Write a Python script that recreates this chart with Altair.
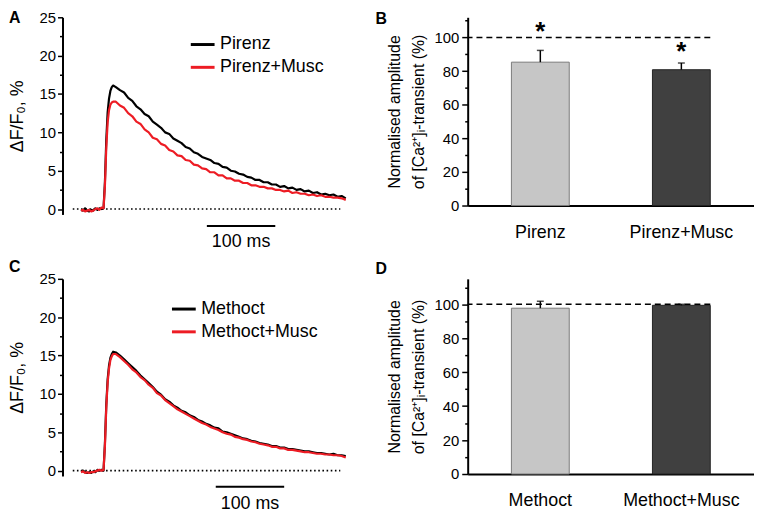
import altair as alt
import pandas as pd

FONT = "Liberation Sans"
RED = "#ed1c24"

# ---------------- data ----------------
# sampling times of the traces (ms, 0 = start of the transient)
time_ms = [-33, -30, -27, -24, -21, -18, -15, -12, -9, -6, -3, 0,
           2, 4, 6, 8, 10, 12, 14,
           18, 24, 30, 36, 42, 48, 54, 60, 66, 72,
           78, 84, 90, 96, 102, 108, 114, 120, 126, 132,
           138, 144, 150, 156, 162, 168, 174, 180, 186, 192,
           198, 204, 210, 216, 222, 228, 234, 240, 246, 252,
           258, 264, 270, 276, 282, 288, 294, 300, 306, 312,
           318, 324, 330, 336, 342, 348, 354]

pirenz = [-0.1, -0.2, 0.1, -0.2, -0.3, -0.1, -0.2, 0.1, -0.1, 0.1, 0.0, 0.1,
          3.5, 9.0, 12.6, 14.4, 15.4, 15.9, 16.1,
          15.9, 15.5, 15.2, 14.5, 14.1, 13.4, 13.0, 12.4, 12.1, 11.4,
          11.0, 10.6, 10.0, 9.8, 9.2, 8.9, 8.6, 8.1, 7.9, 7.4,
          7.2, 6.8, 6.6, 6.4, 6.0, 5.9, 5.5, 5.4, 5.0, 4.9,
          4.6, 4.5, 4.2, 4.1, 3.8, 3.8, 3.5, 3.5, 3.2, 3.2,
          2.9, 3.0, 2.7, 2.8, 2.5, 2.6, 2.3, 2.4, 2.1, 2.2,
          1.9, 2.0, 1.8, 1.9, 1.6, 1.7, 1.4]

pirenz_musc = [-0.2, -0.1, -0.3, -0.2, -0.1, -0.3, -0.2, 0.0, 0.1, -0.1, 0.2, 0.1,
               3.0, 8.0, 11.3, 12.9, 13.6, 13.9, 14.0,
               14.0, 13.5, 13.2, 12.5, 12.1, 11.4, 11.1, 10.4, 10.0, 9.3,
               9.1, 8.5, 8.3, 7.7, 7.5, 7.0, 6.9, 6.4, 6.3, 5.8,
               5.7, 5.3, 5.2, 4.8, 4.8, 4.4, 4.4, 4.0, 4.0, 3.7,
               3.7, 3.4, 3.4, 3.1, 3.1, 2.9, 2.9, 2.7, 2.7, 2.5,
               2.5, 2.3, 2.4, 2.1, 2.2, 2.0, 2.0, 1.8, 1.9, 1.7,
               1.8, 1.6, 1.6, 1.5, 1.5, 1.4, 1.2]

methoct = [-0.1, 0.0, -0.2, -0.3, -0.2, -0.3, -0.1, -0.2, 0.1, 0.0, 0.1, 0.0,
           3.5, 8.6, 11.9, 13.7, 14.7, 15.2, 15.5,
           15.4, 15.0, 14.5, 14.0, 13.5, 13.0, 12.4, 11.9, 11.4, 10.9,
           10.3, 9.9, 9.3, 9.0, 8.5, 8.2, 7.8, 7.6, 7.2, 7.0,
           6.6, 6.4, 6.1, 5.9, 5.6, 5.5, 5.1, 5.0, 4.8, 4.6,
           4.4, 4.2, 4.1, 3.9, 3.8, 3.6, 3.5, 3.4, 3.2, 3.2,
           3.0, 3.0, 2.8, 2.8, 2.7, 2.6, 2.5, 2.5, 2.4, 2.3,
           2.3, 2.2, 2.1, 2.2, 2.0, 2.0, 1.9]

methoct_musc = [-0.2, -0.1, -0.3, -0.2, -0.3, -0.2, -0.2, -0.1, 0.0, 0.1, 0.0, 0.1,
                3.2, 8.2, 11.5, 13.3, 14.4, 14.9, 15.2,
                15.2, 14.8, 14.3, 13.8, 13.2, 12.8, 12.2, 11.8, 11.2, 10.8,
                10.1, 9.8, 9.2, 8.8, 8.4, 8.0, 7.7, 7.4, 7.1, 6.8,
                6.5, 6.2, 6.0, 5.7, 5.5, 5.3, 5.0, 4.8, 4.7, 4.4,
                4.3, 4.1, 4.0, 3.8, 3.7, 3.5, 3.4, 3.3, 3.1, 3.1,
                2.9, 2.9, 2.7, 2.7, 2.6, 2.5, 2.4, 2.4, 2.3, 2.2,
                2.2, 2.1, 2.1, 2.0, 2.0, 1.9, 1.7]

series_A = ["Pirenz", "Pirenz+Musc"]
series_C = ["Methoct", "Methoct+Musc"]

# bar panels: mean and upper error (SEM) in %
cats_B = ["Pirenz", "Pirenz+Musc"]
means_B = [85.3, 80.8]
errs_B = [7.0, 4.0]
stars_B = [107.0, 95.0]

cats_D = ["Methoct", "Methoct+Musc"]
means_D = [97.7, 99.4]
errs_D = [4.1, 0.6]

# annotations of the trace panels (ms / %)
zero_line_A = [-45, 346]
zero_line_C = [-45, 346]
scalebar_A = [151, 251, -2.2, -4.3]
scalebar_C = [164, 264, -2.1, -4.4]

Y_TRACE_TITLE = "\u0394F/F\u2080, %"
Y_BAR_TITLE = ["Normalised amplitude", "of [Ca\u00b2\u207a]\u1d62-transient (%)"]


def trace_panel(letter, names, black_vals, red_vals, zero_span, scalebar,
                legend_x, legend_y, legend_rowpad, title_offset):
    df = pd.DataFrame({
        "t": time_ms * 2,
        "v": black_vals + red_vals,
        "series": [names[0]] * len(time_ms) + [names[1]] * len(time_ms),
    })
    x_enc = alt.X("t:Q", scale=alt.Scale(domain=[-60, 357], nice=False, zero=False), axis=None)
    y_axis = alt.Axis(
        values=[0, 2.5, 5, 7.5, 10, 12.5, 15, 17.5, 20, 22.5, 25],
        labelExpr="datum.value % 5 === 0 ? datum.label : ''",
        tickSize={"condition": {"test": "datum.value % 5 === 0", "value": 5}, "value": 3},
        labelOverlap=False, grid=False,
        domainColor="black", domainWidth=2, tickColor="black", tickWidth=1.5,
        labelFont=FONT, labelFontSize=15, labelColor="black", labelPadding=2,
        titleFont=FONT, titleFontSize=18, titleFontWeight="normal", titleColor="black",
        titlePadding=13,
    )
    y_enc = alt.Y("v:Q", scale=alt.Scale(domain=[-0.7, 25], nice=False, zero=False),
                  axis=y_axis, title=Y_TRACE_TITLE)

    zero_df = pd.DataFrame({"t": [zero_span[0]], "t2": [zero_span[1]], "v": [0]})
    zero = alt.Chart(zero_df).mark_rule(color="black", strokeWidth=1.6, strokeDash=[1.6, 2.6]).encode(
        x=x_enc, x2="t2:Q", y=y_enc)

    lines = alt.Chart(df).mark_line(strokeWidth=2.2, strokeJoin="round").encode(
        x=x_enc, y=y_enc,
        color=alt.Color("series:N", sort=names,
                        scale=alt.Scale(domain=names, range=["black", RED]),
                        legend=alt.Legend(orient="none", legendX=legend_x, legendY=legend_y,
                                          title=None, symbolType="stroke", symbolSize=576,
                                          symbolStrokeWidth=3, labelFont=FONT, labelFontSize=18,
                                          labelColor="black", rowPadding=legend_rowpad,
                                          padding=0, labelOffset=4)),
    )

    bar_df = pd.DataFrame({"t": [scalebar[0]], "t2": [scalebar[1]], "v": [scalebar[2]]})
    sbar = alt.Chart(bar_df).mark_rule(color="black", strokeWidth=2).encode(x=x_enc, x2="t2:Q", y=y_enc)

    lab_df = pd.DataFrame({"t": [(scalebar[0] + scalebar[1]) / 2], "v": [scalebar[3]], "label": ["100 ms"]})
    slab = alt.Chart(lab_df).mark_text(font=FONT, fontSize=18, color="black", baseline="middle").encode(
        x=x_enc, y=y_enc, text="label:N")

    return alt.layer(zero, lines, sbar, slab).properties(
        width=288, height=199,
        title=alt.TitleParams(text=letter, anchor="start", frame="group", dx=-54, fontSize=16,
                              fontWeight="bold", font=FONT, color="black", offset=title_offset),
    )


def bar_panel(letter, cats, means, errs, stars, ydom, height, title_offset):
    df = pd.DataFrame({"cat": cats, "mean": means, "top": [m + e for m, e in zip(means, errs)]})
    x_axis = alt.Axis(title=None, labelAngle=0, ticks=False, domainColor="black",
                      domainWidth=2, labelFont=FONT, labelFontSize=18,
                      labelColor="black", labelPadding=18)
    x_scale = alt.Scale(paddingInner=0.59, paddingOuter=0.31)
    x_enc = alt.X("cat:N", sort=cats, scale=x_scale, axis=x_axis)
    y_axis = alt.Axis(
        values=[0, 10, 20, 30, 40, 50, 60, 70, 80, 90, 100, 110],
        labelExpr="datum.value % 20 === 0 ? datum.label : ''",
        tickSize={"condition": {"test": "datum.value % 20 === 0", "value": 6}, "value": 3},
        labelOverlap=False, grid=False,
        domainColor="black", domainWidth=2, tickColor="black", tickWidth=1.5,
        labelFont=FONT, labelFontSize=15, labelColor="black", labelPadding=3,
        titleFont=FONT, titleFontSize=16, titleFontWeight="normal", titleColor="black",
        titlePadding=8, titleLineHeight=24,
    )
    yscale = alt.Scale(domain=ydom, nice=False, zero=True)

    bars = alt.Chart(df).mark_bar(strokeWidth=1).encode(
        x=x_enc,
        y=alt.Y("mean:Q", scale=yscale, axis=y_axis, title=Y_BAR_TITLE),
        fill=alt.Fill("cat:N", scale=alt.Scale(domain=cats, range=["#c6c6c6", "#404040"]), legend=None),
        stroke=alt.Stroke("cat:N", scale=alt.Scale(domain=cats, range=["#7a7a7a", "#222222"]), legend=None),
    )
    err = alt.Chart(df).mark_rule(color="black", strokeWidth=1.5).encode(
        x=x_enc, y=alt.Y("mean:Q", scale=yscale, axis=y_axis, title=Y_BAR_TITLE), y2="top:Q")
    cap = alt.Chart(df).mark_tick(orient="horizontal", size=7, thickness=1.5, color="black").encode(
        x=x_enc, y=alt.Y("top:Q", scale=yscale, axis=y_axis, title=Y_BAR_TITLE))

    ref_df = pd.DataFrame({"ref": [100], "cat": [cats[-1]]})
    ref = alt.Chart(ref_df).mark_rule(color="black", strokeWidth=1.5, strokeDash=[6, 4]).encode(
        x=alt.X("cat:N", sort=cats, bandPosition=1, scale=x_scale, axis=x_axis),
        x2=alt.value(0),
        y=alt.Y("ref:Q", scale=yscale, axis=y_axis, title=Y_BAR_TITLE),
    )
    layers = [bars, ref, err, cap]
    if stars:
        star_df = pd.DataFrame({"cat": cats, "star": stars})
        st = alt.Chart(star_df).mark_text(text="*", font=FONT, fontSize=26, fontWeight="bold",
                                          color="black", baseline="middle", dy=6).encode(
            x=x_enc, y=alt.Y("star:Q", scale=yscale, axis=y_axis, title=Y_BAR_TITLE))
        layers.append(st)
    return alt.layer(*layers).properties(
        width=289, height=height,
        title=alt.TitleParams(text=letter, anchor="start", frame="group", dx=-93, fontSize=16,
                              fontWeight="bold", font=FONT, color="black", offset=title_offset),
    )


A = trace_panel("A", series_A, pirenz, pirenz_musc, zero_line_A, scalebar_A, 128, 14, 0, -16)
B = bar_panel("B", cats_B, means_B, errs_B, stars_B, [0, 112], 190, -13)
C = trace_panel("C", series_C, methoct, methoct_musc, zero_line_C, scalebar_C, 109, 17, -2, -3)
D = bar_panel("D", cats_D, means_D, errs_D, [], [0, 115], 197, 2)

chart = alt.concat(A, B, C, D, columns=2, spacing={"row": 65, "column": 121},
                   bounds="flush").resolve_scale(
    color="independent", fill="independent", stroke="independent"
).properties(
    padding={"left": 0, "top": 0, "right": 0, "bottom": 0}
).configure(font=FONT).configure_view(stroke=None)

chart.save("out.html", embed_options={"renderer": "svg", "actions": False})
